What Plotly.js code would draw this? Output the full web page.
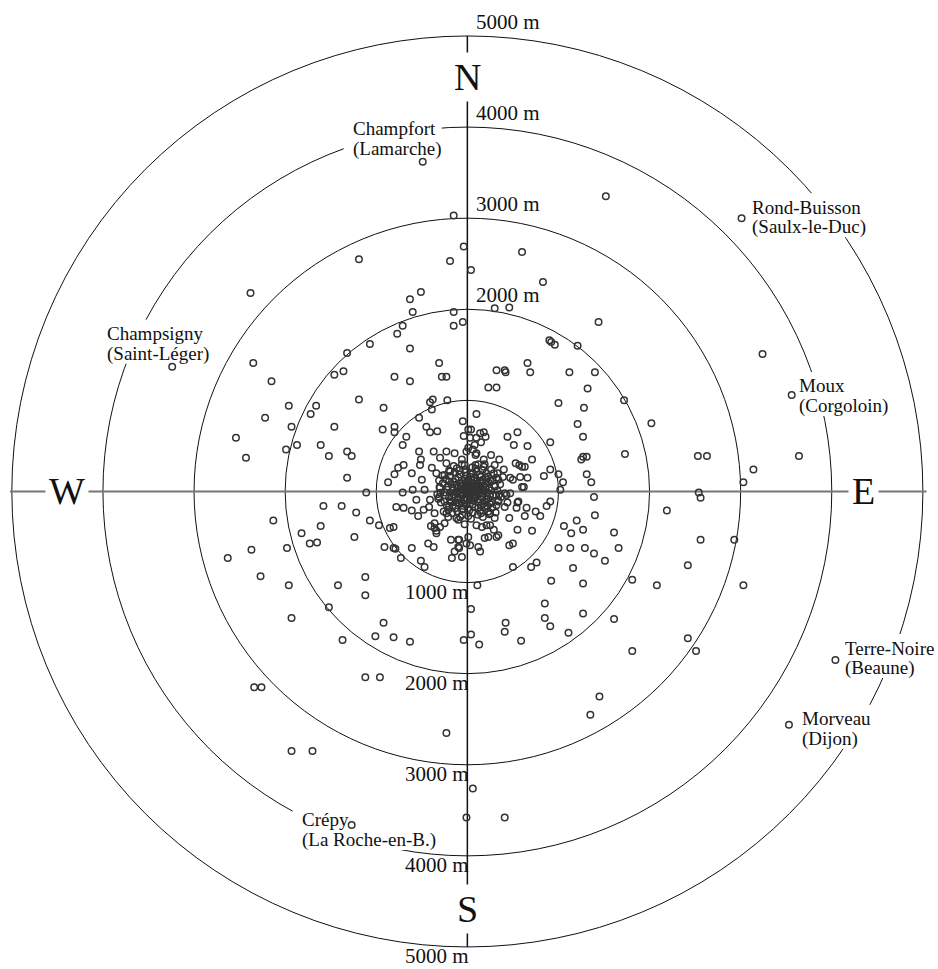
<!DOCTYPE html>
<html><head><meta charset="utf-8">
<script src="https://cdn.plot.ly/plotly-3.0.1.min.js"></script>
<style>html,body{margin:0;padding:0;background:#fff;}#chart{width:938px;height:969px;}</style>
</head><body><div id="chart"></div>
<script>
// Distance rings (metres) and their labels
const ringRadii = [1000, 2000, 3000, 4000, 5000];
const ringLabels = ["1000 m", "2000 m", "3000 m", "4000 m", "5000 m"];
const topLabelRings = [2000, 3000, 4000, 5000];
const bottomLabelRings = [1000, 2000, 3000, 4000, 5000];
const cardinalLetters = ["N", "E", "S", "W"];

// Named sites (east, north in metres)
const siteNames = ["Champfort", "Rond-Buisson", "Champsigny", "Moux", "Terre-Noire", "Morveau", "Crépy"];
const siteSubs = ["(Lamarche)", "(Saulx-le-Duc)", "(Saint-Léger)", "(Corgoloin)", "(Beaune)", "(Dijon)", "(La Roche-en-B.)"];
const siteEast = [-490, 3010, -3240, 3560, 4040, 3530, -1270];
const siteNorth = [3620, 3000, 1370, 1060, -1850, -2560, -3660];

// Find-spots [east, north] in metres, north half
const pointsNorth = [
 [-150,3030],[-40,2690],[1520,3240],[600,2630],[-1190,2550],[-190,2530],[40,2430],[830,2300],
 [-510,2190],[-630,2110],[-600,1970],[-150,1970],[-50,1860],[-150,1820],[300,2010],[460,2020],
 [-710,1820],[-770,1730],[-1070,1620],[-1320,1520],[-630,1570],[-1360,1320],[-310,1410],[-800,1260],
 [-630,1210],[-280,1260],[-230,1260],[-1190,1010],[-920,920],[-410,980],[-380,1010],[-220,1000],
 [-390,900],[1440,1860],[900,1660],[920,1640],[960,1610],[1210,1600],[660,1410],[690,1310],
 [320,1330],[410,1330],[420,1310],[1120,1310],[1400,1310],[230,1140],[320,1140],[1320,1130],
 [1000,970],[1280,920],[-2380,2180],[-2350,1410],[-1460,1280],[-2150,1210],[-1960,940],[-1660,940],
 [-1720,850],[-2220,810],[-1930,710],[-1460,710],[-530,810],[-930,680],[-800,710],[-800,650],
 [-450,710],[-410,650],[-330,660],[-50,770],[-40,610],[-2540,590],[-2430,370],[-1990,460],
 [-1870,510],[-1610,510],[-1520,390],[-1320,440],[-1270,390],[-1320,150],[-1110,-10],[-710,510],
 [-670,600],[-760,260],[-870,100],[-800,190],[-610,200],[-530,440],[-510,350],[-370,440],
 [3240,1510],[1720,1000],[100,850],[2020,750],[1210,740],[1270,600],[40,680],[180,650],
 [100,590],[200,600],[150,540],[440,600],[550,650],[510,510],[660,500],[910,540],
 [1730,410],[2530,390],[2630,390],[3640,390],[3140,240],[3030,100],[1270,380],[1310,380],
 [1250,350],[710,350],[530,310],[570,290],[600,270],[910,240],[840,170],[1000,190],
 [1050,100],[1310,190],[1360,100],[1020,20],[660,150],[600,50],[2540,-10],[2560,-70],
 [1390,-60],[400,240],[350,350],[260,400],[60,460],[90,400],[500,130],[390,160],
 [630,270],[580,160],[470,150],[430,-40],[470,-20],[560,-110],[620,50],[410,-20],
 [300,290],[190,300],[340,130],[10,680],[30,590],[140,640],
 [-600,20],[-500,130],[-470,20],[-560,-90],[-410,-90],[-700,290],[-520,290],[-300,370],
 [-230,440],[-140,420],[-230,310],[-390,260],[-340,200],[-190,220],[-60,350],[-10,440],
 [100,420],[180,350],[80,510],[10,480]
];

// Find-spots, south half
const pointsSouth = [
 [-1580,-160],[-1380,-160],[-1220,-230],[-1070,-320],[-970,-370],[-2130,-320],[-1610,-380],[-1820,-460],
 [-1730,-570],[-1650,-560],[-1240,-500],[-2370,-640],[-1980,-620],[-2630,-730],[-2270,-930],[-1960,-1030],
 [-1420,-1030],[-1120,-940],[-1120,-1140],[-1520,-1270],[-1930,-1390],[-920,-1440],[-1010,-1590],[-810,-1600],
 [-630,-1650],[-1370,-1630],[-40,-1630],[-1120,-2040],[-960,-2040],[-2340,-2150],[-2260,-2150],[-230,-2650],
 [-810,-620],[-790,-630],[-730,-730],[-610,-620],[-430,-570],[-510,-760],[-470,-830],[-170,-730],
 [-90,-530],[-90,-620],[-10,-570],[-610,-210],[-540,-270],[-480,-200],[-400,-380],[-340,-430],
 [-360,-350],[-250,-350],[-210,-280],[-100,-310],[-30,-360],[-710,-10],[-1930,-2850],[-1700,-2850],
 [60,-3260],[-10,-3580],[410,-3580],
 [-700,-180],[-780,-170],[-810,-390],[-850,-400],[-910,-610],[-370,-610],[-340,-460],[-140,-660],
 [-180,-530],[-60,-720],[-420,-170],[-360,-240],[-360,-400],[-300,-390],
 [2190,-210],[1400,-260],[910,-110],[870,-160],[800,-270],[630,-270],[460,-290],[550,-420],
 [710,-430],[550,-120],[440,-120],[1060,-380],[1200,-320],[1270,-420],[1140,-460],[1610,-450],
 [2560,-530],[2930,-530],[1000,-620],[1130,-620],[1290,-620],[1390,-680],[1660,-620],[1510,-760],
 [500,-570],[140,-660],[500,-830],[700,-830],[760,-780],[1160,-840],[2420,-810],[920,-980],
 [1270,-1010],[1810,-970],[2080,-1030],[3030,-1030],[110,-1030],[40,-1290],[850,-1230],[850,-1390],
 [910,-1480],[420,-1440],[410,-1540],[590,-1640],[1110,-1550],[1270,-1340],[1610,-1400],[40,-1570],
 [130,-1680],[2420,-1610],[2510,-1750],[1810,-1750],[1450,-2250],[1350,-2450],
 [460,-590],[340,-480],[230,-500],[250,-370],[160,-390],[10,-500],[30,-590],[-100,-530],
 [-100,-610],[750,-220],[650,-180],[540,-180],[210,-370],[290,-420],[320,-500],[190,-510],
 [120,-610],[300,-290],[250,-240],[410,-170],[340,-110],[100,-370]
];

// Dense cluster round the centre
const pointsCore = [
 [0,0],[30,-20],[-40,10],[60,30],[-80,-20],[90,-50],[20,70],[-30,-70],[110,10],[-110,40],
 [50,-100],[-60,90],[140,60],[-150,-30],[10,130],[-10,-140],[170,-20],[-170,80],[80,150],[-90,-130],
 [120,-120],[-130,140],[200,40],[-200,-60],[40,190],[-50,-190],[230,-80],[-220,20],[150,160],[-160,-150],
 [190,-170],[-190,170],[260,10],[-250,-110],[100,220],[-110,-220],[280,120],[-270,90],[60,-230],[-20,240],
 [15,45],[-25,35],[45,-15],[-55,-45],[75,65],[-75,55],[35,-55],[-15,95],[95,85],[-95,-75],
 [130,-25],[-125,-5],[25,-95],[-35,115],[155,105],[-145,105],[115,-85],[-105,-95],[185,5],[-185,-15],
 [65,125],[-65,-115],[205,-45],[-215,55],[135,185],[-135,-185],[235,95],[-235,135],[175,-135],[-175,-115],
 [5,-185],[-5,175],[245,-135],[-245,-45],[85,-175],[-85,185],[225,165],[-225,-155],[305,55],[-295,-15],
 [55,265],[-55,-255],[315,-45],[-305,45],[165,235],[-165,-235],[275,-175],[-275,175],[115,-255],[-115,255],
 [10,20],[40,5],[-20,-15],[55,55],[-45,65],[70,-35],[-65,-10],[100,40],[-100,0],[30,100],
 [-30,-100],[130,20],[-140,-60],[80,-80],[-80,90],[160,-60],[-160,30],[110,120],[-120,-120],[200,90],
 [-200,110],[190,-110],[-190,-110],[60,200],[-60,-200],[250,-30],[-250,-10],[140,-210],[-140,210],[210,200],
 [320,150],[-320,-80],[340,-100],[-310,120],[90,290],[-80,-280],[260,240],[-260,-220],[330,10],[-330,-30],
 [20,-50],[-10,50],[50,20],[-50,-20],[80,0],[0,-80],[-70,30],[70,-70],[120,70],[-120,70],
 [150,-150],[-40,-160],[40,160],[170,130],[-170,-60],[220,-10],[-20,210],[20,-210],[230,-220],[-210,-200],
 [280,-40],[300,60],[350,-30],[320,-150],[290,200],[240,-250],[180,270],[120,300],[-30,290],[-150,280],
 [-200,230],[-290,-120],[-230,-240],[-120,-290],[40,-300],[170,-280],[310,-230],[360,80],[370,-60],[200,150],
 [250,120],[220,-160],[150,-240],[90,250],[-90,230],[-250,180],[-300,40],[-310,-60],[-60,300],[10,-270],
 [260,-120],[330,200],[150,20],[180,60],[240,40],[210,-90],[120,-180],[60,-140],[-100,150],[-200,-160]
];

const allPts = pointsNorth.concat(pointsSouth, pointsCore);
const markerStyle = {symbol: 'circle-open', size: 6.5, color: '#333', line: {width: 1.5, color: '#333'}};

const traces = [
  {type: 'scatter', mode: 'markers', x: allPts.map(p => p[0]), y: allPts.map(p => p[1]),
   marker: markerStyle, hoverinfo: 'skip', showlegend: false},
  {type: 'scatter', mode: 'markers', x: siteEast, y: siteNorth,
   marker: markerStyle, hoverinfo: 'skip', showlegend: false}
];

const FONT = 'Liberation Serif, Times New Roman, serif';
const shapes = [];
ringRadii.forEach(r => shapes.push({type: 'circle', xref: 'x', yref: 'y', x0: -r, x1: r, y0: -r, y1: r,
  line: {color: '#111', width: 1}, layer: 'below'}));
const rMax = ringRadii[ringRadii.length - 1];
shapes.push({type: 'line', xref: 'x', yref: 'y', x0: -rMax - 20, x1: rMax + 40, y0: 0, y1: 0,
  line: {color: '#777', width: 2}, layer: 'below'});
shapes.push({type: 'line', xref: 'x', yref: 'y', x0: 0, x1: 0, y0: -rMax, y1: rMax,
  line: {color: '#111', width: 1.5}, layer: 'below'});

const annotations = [];
topLabelRings.forEach(r => annotations.push({x: 0, y: r, xref: 'x', yref: 'y', text: ringLabels[ringRadii.indexOf(r)],
  showarrow: false, xanchor: 'left', yanchor: 'middle', xshift: 7, yshift: 14,
  font: {family: FONT, size: 21, color: '#111'}}));
bottomLabelRings.forEach(r => annotations.push({x: 0, y: -r, xref: 'x', yref: 'y', text: ringLabels[ringRadii.indexOf(r)],
  showarrow: false, xanchor: 'right', yanchor: 'middle', xshift: 4, yshift: -9,
  font: {family: FONT, size: 21, color: '#111'}}));

const cardinalPos = {N: [0, 4546], E: [4345, 0], S: [0, -4584], W: [-4390, 0]};
cardinalLetters.forEach(c => annotations.push({x: cardinalPos[c][0], y: cardinalPos[c][1], xref: 'x', yref: 'y',
  text: c, showarrow: false, xanchor: 'center', yanchor: 'middle', bgcolor: '#fff', borderpad: 3,
  font: {family: FONT, size: 38, color: '#111'}}));

// label layout in px relative to each site: [dx, dy line1, dy line2, text width] (dy downwards)
const labelOffsets = [[-71, -33, -13, 85], [9, -11, 9, 113], [-66, -33, -13, 99], [6, -9, 11, 90],
                      [9, -12, 8, 90], [12, -6, 14, 68], [-51, -5, 15, 136]];
siteNames.forEach((nm, i) => {
  const o = labelOffsets[i];
  // white patch that interrupts the rings behind the label (below the markers)
  shapes.push({type: 'rect', xref: 'x', yref: 'y', xsizemode: 'pixel', ysizemode: 'pixel',
    xanchor: siteEast[i], yanchor: siteNorth[i], x0: o[0] - 8, x1: o[0] + o[3] + 5,
    y0: -(o[2] + 10), y1: -(o[1] - 14), fillcolor: '#fff', line: {width: 0}, layer: 'below'});
  [[nm, o[1]], [siteSubs[i], o[2]]].forEach(([t, dy]) => annotations.push({
    x: siteEast[i], y: siteNorth[i], xref: 'x', yref: 'y', text: t, showarrow: false,
    xanchor: 'left', yanchor: 'middle', xshift: o[0], yshift: -dy, borderpad: 0,
    font: {family: FONT, size: 19, color: '#111'}}));
});

const layout = {
  width: 938, height: 969, margin: {l: 0, r: 0, t: 0, b: 0},
  paper_bgcolor: '#fff', plot_bgcolor: '#fff', showlegend: false,
  xaxis: {range: [-5130, 5166], visible: false, fixedrange: true},
  yaxis: {range: [-5242, 5395], visible: false, fixedrange: true},
  shapes: shapes, annotations: annotations
};
Plotly.newPlot('chart', traces, layout, {staticPlot: true, displayModeBar: false});
</script></body></html>
